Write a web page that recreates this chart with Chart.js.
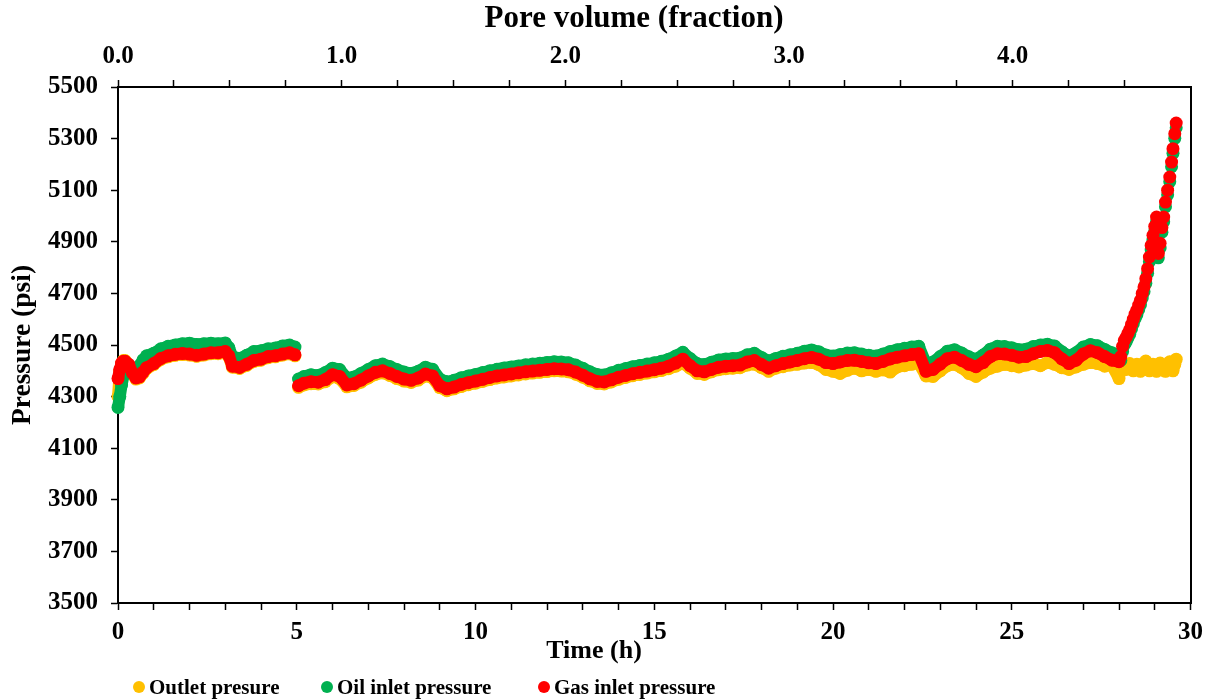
<!DOCTYPE html>
<html>
<head>
<meta charset="utf-8">
<title>Pressure vs time</title>
<script src="https://cdn.jsdelivr.net/npm/chart.js@4.4.0/dist/chart.umd.min.js"></script>
<style>
    html, body { margin: 0; padding: 0; background: #fff; }
    #wrap { position: relative; width: 1211px; height: 700px; }
    .legend-item {
        position: absolute; top: 675px; height: 24px;
        display: flex; align-items: center;
        font: bold 21px 'Liberation Serif', 'Times New Roman', serif; color: #000;
        white-space: nowrap;
    }
    .dot { width: 12px; height: 12px; border-radius: 50%; margin-right: 4px; }
</style>
</head>
<body>
<div id="wrap">
    <canvas id="pressureChart" width="1211" height="700"></canvas>
    <div class="legend-item" style="left:133px"><span class="dot" style="background:#FFC000"></span>Outlet presure</div>
    <div class="legend-item" style="left:321px"><span class="dot" style="background:#00B050"></span>Oil inlet pressure</div>
    <div class="legend-item" style="left:538px"><span class="dot" style="background:#FF0000"></span>Gas inlet pressure</div>
</div>
<script>
// tiempo (h) - mismo eje para las tres series; null en 5.0 h = corte de registro
const timeH = [
    0, 0.05, 0.1, 0.15, 0.2, 0.3, 0.4, 0.5, 0.6, 0.7,
    0.8, 1.0, 1.2, 1.4, 1.6, 1.8, 2.0, 2.2, 2.4, 2.6,
    2.8, 3.0, 3.1, 3.2, 3.4, 3.6, 3.8, 4.0, 4.2, 4.4,
    4.6, 4.8, 4.95, 5.0,
    5.05, 5.2, 5.4, 5.6, 5.8, 6.0, 6.2, 6.4, 6.6, 6.8,
    7.0, 7.2, 7.4, 7.6, 7.8, 8.0, 8.2, 8.4, 8.6, 8.8,
    9.0, 9.2, 9.4, 9.6, 9.8, 10.0, 10.2, 10.4, 10.6, 10.8,
    11.0, 11.2, 11.4, 11.6, 11.8, 12.0, 12.2, 12.4, 12.6, 12.8,
    13.0, 13.2, 13.4, 13.6, 13.8, 14.0, 14.2, 14.4, 14.6, 14.8,
    15.0, 15.2, 15.4, 15.6, 15.8, 16.0, 16.2, 16.4, 16.6, 16.8,
    17.0, 17.2, 17.4, 17.6, 17.8, 18.0, 18.2, 18.4, 18.6, 18.8,
    19.0, 19.2, 19.4, 19.6, 19.8, 20.0, 20.2, 20.4, 20.6, 20.8,
    21.0, 21.2, 21.4, 21.6, 21.8, 22.0, 22.2, 22.4, 22.6, 22.8,
    23.0, 23.2, 23.4, 23.6, 23.8, 24.0, 24.2, 24.4, 24.6, 24.8,
    25.0, 25.2, 25.4, 25.6, 25.8, 26.0, 26.2, 26.4, 26.6, 26.8,
    27.0, 27.2, 27.4, 27.6, 27.8, 28.0,
    28.05, 28.1, 28.15, 28.2, 28.25, 28.3, 28.35, 28.4, 28.45, 28.5,
    28.55, 28.6, 28.65, 28.7, 28.75, 28.8, 28.85, 28.9, 28.95, 29.0,
    29.05, 29.1, 29.15, 29.2, 29.25, 29.3, 29.36, 29.42, 29.47, 29.51,
    29.56, 29.6
];

const outletP = [
    4300, 4400, 4428, 4440, 4440, 4420, 4388, 4368, 4372, 4390,
    4408, 4424, 4444, 4454, 4460, 4463, 4461, 4456, 4461, 4466,
    4466, 4471, 4454, 4414, 4409, 4421, 4436, 4441, 4451, 4454,
    4461, 4466, 4458, null,
    4336, 4345, 4350, 4349, 4358, 4377, 4370, 4338, 4343, 4356,
    4372, 4386, 4392, 4382, 4370, 4360, 4355, 4364, 4380, 4372,
    4335, 4323, 4330, 4339, 4346, 4352, 4359, 4366, 4372, 4376,
    4380, 4384, 4388, 4391, 4394, 4397, 4400, 4399, 4396, 4387,
    4375, 4361, 4351, 4349, 4357, 4367, 4374, 4381, 4386, 4391,
    4396, 4401, 4408, 4418, 4430, 4410, 4390, 4386, 4396, 4404,
    4408, 4410, 4412, 4422, 4426, 4412, 4398, 4410, 4416, 4422,
    4425, 4430, 4432, 4424, 4405, 4398, 4390, 4402, 4410, 4400,
    4405, 4398, 4404, 4395, 4415, 4420, 4425, 4430, 4380, 4378,
    4400, 4420, 4425, 4412, 4390, 4378, 4395, 4410, 4418, 4425,
    4420, 4415, 4422, 4428, 4420, 4432, 4425, 4412, 4405, 4415,
    4425, 4432, 4428, 4418, 4422, 4370,
    4425, 4432, 4418, 4405, 4412, 4428, 4420, 4400, 4410, 4425,
    4415, 4398, 4408, 4430, 4438, 4415, 4400, 4405, 4425, 4410,
    4398, 4412, 4430, 4420, 4402, 4398, 4415, 4435, 4410, 4400,
    4425, 4445
];

const oilP = [
    4258, 4300, 4345, 4380, 4395, 4398, 4392, 4398, 4420, 4442,
    4458, 4468, 4485, 4495, 4500, 4505, 4507, 4502, 4505, 4507,
    4505, 4508, 4490, 4455, 4448, 4460, 4475, 4478, 4485, 4488,
    4496, 4500, 4492, null,
    4368, 4378, 4385, 4382, 4393, 4410, 4405, 4372, 4376, 4390,
    4405, 4420, 4426, 4417, 4405, 4395, 4390, 4398, 4414, 4406,
    4368, 4357, 4363, 4373, 4380, 4386, 4393, 4400, 4406, 4411,
    4415, 4419, 4423, 4426, 4429, 4432, 4435, 4434, 4431, 4422,
    4410, 4396, 4386, 4384, 4392, 4402, 4409, 4416, 4421, 4426,
    4431, 4437, 4445, 4457, 4472, 4448, 4428, 4424, 4433, 4442,
    4446, 4448, 4450, 4462, 4468, 4452, 4438, 4448, 4456, 4462,
    4468, 4476, 4481, 4474, 4461, 4457, 4463, 4469, 4470, 4465,
    4460, 4457, 4465, 4475, 4482, 4487, 4492, 4495, 4427, 4434,
    4455, 4476, 4482, 4469, 4454, 4445, 4461, 4484, 4495, 4494,
    4489, 4482, 4484, 4494, 4500, 4503, 4496, 4474, 4457, 4470,
    4492, 4502, 4497, 4483, 4470, 4463,
    4440, 4475, 4500, 4512, 4527, 4542, 4562, 4582, 4602, 4617,
    4637, 4655, 4682, 4707, 4739, 4778, 4823, 4868, 4907, 4942,
    4978, 4838, 4876, 4937, 4978, 5036, 5082, 5133, 5191, 5243,
    5301, 5342
];

const gasP = [
    4370, 4405, 4430, 4437, 4437, 4425, 4392, 4372, 4376, 4395,
    4412, 4428, 4448, 4458, 4464, 4467, 4465, 4460, 4465, 4470,
    4470, 4475, 4458, 4418, 4413, 4425, 4440, 4445, 4455, 4458,
    4465, 4470, 4462, null,
    4342, 4352, 4358, 4356, 4366, 4385, 4378, 4345, 4350, 4364,
    4380, 4394, 4400, 4390, 4378, 4368, 4363, 4372, 4388, 4380,
    4342, 4330, 4337, 4347, 4354, 4360, 4367, 4374, 4380, 4384,
    4388, 4392, 4396, 4399, 4402, 4405, 4408, 4407, 4404, 4395,
    4383, 4369, 4359, 4357, 4365, 4375, 4382, 4389, 4394, 4399,
    4404, 4410, 4418, 4430, 4445, 4420, 4400, 4396, 4405, 4414,
    4418, 4420, 4422, 4434, 4440, 4424, 4410, 4420, 4428, 4434,
    4440, 4447, 4452, 4445, 4432, 4428, 4434, 4440, 4441, 4436,
    4431, 4428, 4436, 4446, 4453, 4458, 4463, 4466, 4398, 4405,
    4426, 4447, 4453, 4440, 4425, 4416, 4432, 4455, 4466, 4465,
    4460, 4453, 4455, 4466, 4475, 4479, 4470, 4446, 4428, 4441,
    4465, 4478, 4470, 4455, 4441, 4435,
    4455, 4495, 4518, 4530, 4545, 4560, 4580, 4600, 4620, 4635,
    4655, 4673, 4700, 4725, 4757, 4796, 4841, 4886, 4925, 4960,
    4996, 4855, 4894, 4955, 4996, 5054, 5100, 5151, 5209, 5261,
    5319, 5360
];

// eje superior: volumen poroso equivalente a 30 h
const pvAtEnd = 4.795;
const timeMax = 30;
const pressureMin = 3500;
const pressureMax = 5500;
// a partir de aqui las entradas suben y los puntos se ven sueltos
const riseStartH = 28.0;

const serif = "'Liberation Serif', 'Times New Roman', serif";
Chart.defaults.color = '#000';
Chart.defaults.font.family = serif;

const toPoints = (vals) => timeH.map((t, i) => ({ x: t, y: vals[i] }));
const hideRise = { borderColor: c => (c.p0.parsed.x >= riseStartH ? 'rgba(0,0,0,0)' : undefined) };

const tickFont = { family: serif, weight: 'bold', size: 25 };
const axisGrid = { drawOnChartArea: false, drawTicks: true, tickLength: 7, tickWidth: 1.5, tickColor: '#000' };
const axisBorder = { display: true, color: '#000', width: 2 };

// titulos de los ejes x, colocados como en la figura original
const axisTitles = {
    id: 'axisTitles',
    afterDraw(chart) {
        const c = chart.ctx;
        c.save();
        c.fillStyle = '#000';
        c.textAlign = 'center';
        c.textBaseline = 'middle';
        c.font = `bold 31px ${serif}`;
        c.fillText('Pore volume (fraction)', 634, 19);
        c.font = `bold 26px ${serif}`;
        c.fillText('Time (h)', 594, 651);
        c.restore();
    }
};

const ctx = document.getElementById('pressureChart').getContext('2d');
new Chart(ctx, {
    type: 'scatter',
    data: {
        datasets: [
            { label: 'Outlet presure', data: toPoints(outletP), color: '#FFC000', order: 3 },
            { label: 'Oil inlet pressure', data: toPoints(oilP), color: '#00B050', order: 2, segment: hideRise },
            { label: 'Gas inlet pressure', data: toPoints(gasP), color: '#FF0000', order: 1, segment: hideRise }
        ].map(ds => Object.assign(ds, {
            backgroundColor: ds.color,
            borderColor: ds.color,
            pointRadius: 6.5,
            pointHoverRadius: 6.5,
            pointBorderWidth: 0,
            showLine: true,
            spanGaps: false,
            borderWidth: 12,
            borderCapStyle: 'round',
            borderJoinStyle: 'round',
            tension: 0,
            clip: false
        }))
    },
    options: {
        responsive: false,
        animation: false,
        layout: { padding: { left: 0, right: 0, top: 0, bottom: 30 } },
        plugins: { legend: { display: false }, tooltip: { enabled: false } },
        scales: {
            x: {
                type: 'linear', position: 'bottom', min: 0, max: timeMax,
                grid: axisGrid, border: axisBorder,
                ticks: {
                    stepSize: 1, autoSkip: false, maxRotation: 0, padding: 8, font: tickFont,
                    callback: v => (v % 5 === 0 ? String(v) : '')
                },
                afterFit: s => { s.height = 67; }
            },
            x2: {
                type: 'linear', position: 'top', min: 0, max: pvAtEnd,
                grid: axisGrid, border: axisBorder,
                afterBuildTicks: s => {
                    s.ticks = s.ticks.filter(t => Math.abs(t.value * 4 - Math.round(t.value * 4)) < 1e-6);
                },
                ticks: {
                    stepSize: 0.25, autoSkip: false, maxRotation: 0, padding: 8, font: tickFont,
                    callback: v => (Math.abs(v - Math.round(v)) < 1e-6 ? v.toFixed(1) : '')
                },
                afterFit: s => { s.height = 87; }
            },
            y: {
                type: 'linear', position: 'left', min: pressureMin, max: pressureMax,
                grid: axisGrid, border: axisBorder,
                title: {
                    display: true, text: 'Pressure (psi)',
                    font: { family: serif, weight: 'bold', size: 27.5 },
                    padding: { top: 6, bottom: 0 }
                },
                ticks: { stepSize: 200, padding: 13, font: tickFont, callback: v => String(v) },
                afterFit: s => { s.width = 118; }
            },
            y2: {
                type: 'linear', position: 'right', min: pressureMin, max: pressureMax,
                grid: { drawOnChartArea: false, drawTicks: false },
                border: axisBorder,
                ticks: { display: false },
                afterFit: s => { s.width = 19; }
            }
        }
    },
    plugins: [axisTitles]
});
</script>
</body>
</html>
